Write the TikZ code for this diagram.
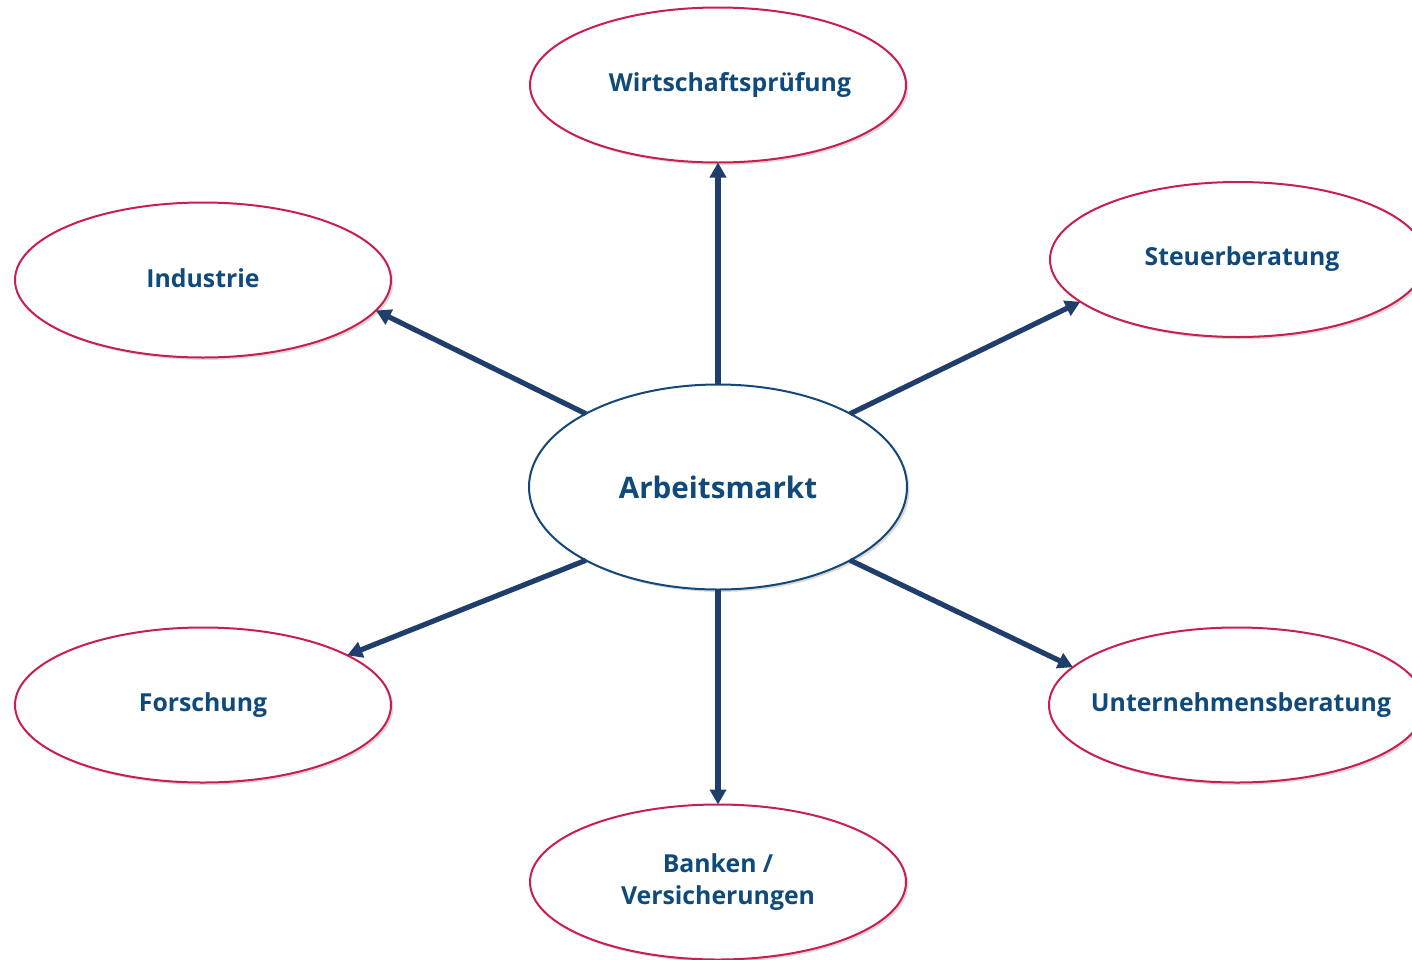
\documentclass[tikz,border=0pt]{standalone}
\usepackage{fontspec}
\setmainfont{Open Sans}
\usetikzlibrary{shapes.geometric,arrows.meta,shadows}
\definecolor{txtblue}{RGB}{16,74,122}
\definecolor{arrblue}{RGB}{31,62,108}
\definecolor{crim}{RGB}{200,30,80}
\definecolor{cblue}{RGB}{20,72,120}
\newcommand{\lbl}[1]{\raisebox{1.5pt}{\makebox[0pt]{#1}}}
\tikzset{
  outer/.style={ellipse, draw=crim, line width=1pt, fill=white, inner sep=0pt, outer sep=0pt,
    minimum width=188pt, minimum height=77.5pt, text=txtblue, font=\bfseries\fontsize{12.4}{16}\selectfont, align=center,
    drop shadow={shadow xshift=1.2pt, shadow yshift=-1.2pt, opacity=0.15, fill=black}},
  centre/.style={ellipse, draw=cblue, line width=1pt, fill=white, inner sep=0pt, outer sep=0pt,
    minimum width=189pt, minimum height=102.5pt, text=txtblue, font=\bfseries\fontsize{14.8}{19}\selectfont,
    drop shadow={shadow xshift=1.2pt, shadow yshift=-1.2pt, opacity=0.15, fill=black}},
  arr/.style={draw=arrblue, line width=2.6pt, -{Triangle[length=7.5pt,width=8pt]}},
}
\begin{document}
\begin{tikzpicture}[x=0.5pt,y=-0.5pt]
\useasboundingbox[fill=white] (0,0) rectangle (1412,959);
\node[outer] (w) at (718,85) {\hspace*{12pt}\lbl{Wirtschaftsprüfung}};
\node[outer] (ind) at (203,280) {\lbl{Industrie}};
\node[outer] (st) at (1238,259.5) {\hspace*{4pt}\lbl{Steuerberatung}};
\node[outer] (fo) at (203,705) {\lbl{Forschung}};
\node[outer] (un) at (1237,705) {\hspace*{4pt}\lbl{Unternehmensberatung}};
\node[outer] (b) at (718,882) {Banken /\\Versicherungen};
\node[centre] (c) at (718,487) {Arbeitsmarkt};
\draw[arr] (c.90) -- (w.-90);
\draw[arr] (c.151) -- (ind.-10);
\draw[arr] (c.29) -- (st.195);
\draw[arr] (c.209) -- (fo.19);
\draw[arr] (c.331) -- (un.167);
\draw[arr] (c.-90) -- (b.90);
\end{tikzpicture}
\end{document}
